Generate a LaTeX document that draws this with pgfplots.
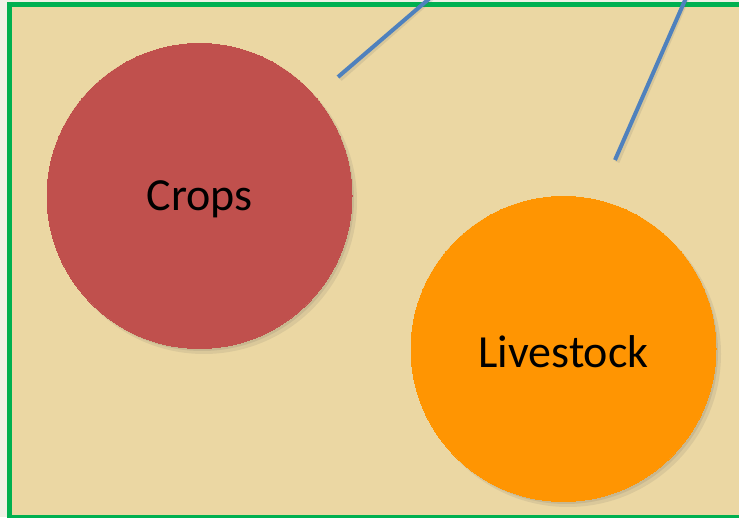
\documentclass[border=0pt]{standalone}
\usepackage{pgfplots}
\pgfplotsset{compat=1.18}
\usepackage{fontspec}
\setmainfont{Carlito}
\definecolor{outerbg}{HTML}{EFF1E6}
\definecolor{papyrus}{HTML}{EBD7A3}
\definecolor{border}{HTML}{00B050}
\definecolor{crops}{HTML}{C0504D}
\definecolor{livestock}{HTML}{FF9502}
\definecolor{linkblue}{HTML}{4F81BD}
\begin{document}
\begin{tikzpicture}
\fill[outerbg] (0,0) rectangle (739pt,517pt);
\begin{axis}[at={(0,0)}, anchor=south west,
  width=739pt, height=517pt, scale only axis,
  xmin=0, xmax=739, ymin=0, ymax=517,
  hide axis, clip=true]
% papyrus panel with green border
\addplot[draw=border, line width=5pt, fill=papyrus]
  coordinates {(9.5,0) (9.5,512) (760,512) (760,0)} -- cycle;
% connector lines (shadow then line)
\addplot[draw=black!60, opacity=0.15, line width=5pt] coordinates {(340,438) (432,519)};
\addplot[draw=black!60, opacity=0.15, line width=5pt] coordinates {(617,355) (687,519)};
\addplot[draw=linkblue, line width=4pt] coordinates {(338,440) (430,519)};
\addplot[draw=linkblue, line width=4pt] coordinates {(615,357) (686,519)};
% shadows of circles
\addplot[only marks, mark=*, mark size=153pt, color=black!70, opacity=0.10,
  mark options={line width=0pt, draw opacity=0}]
  coordinates {(204,316) (568,163)};
\addplot[only marks, mark=*, mark size=152pt, color=black!70, opacity=0.12,
  mark options={line width=0pt, draw opacity=0}]
  coordinates {(202,318) (566,165)};
% circles
\addplot[only marks, mark=*, mark size=152.5pt, color=crops,
  mark options={line width=0pt},
  nodes near coords, point meta=explicit symbolic,
  nodes near coords style={anchor=center, font=\fontsize{46}{56}\selectfont, text=black, yshift=-3pt}]
  coordinates {(199.5,321) [Crops]};
\addplot[only marks, mark=*, mark size=152.5pt, color=livestock,
  mark options={line width=0pt},
  nodes near coords, point meta=explicit symbolic,
  nodes near coords style={anchor=center, font=\fontsize{46}{56}\selectfont, text=black, yshift=-3pt}]
  coordinates {(563.5,168) [Livestock]};
\end{axis}
\end{tikzpicture}
\end{document}
